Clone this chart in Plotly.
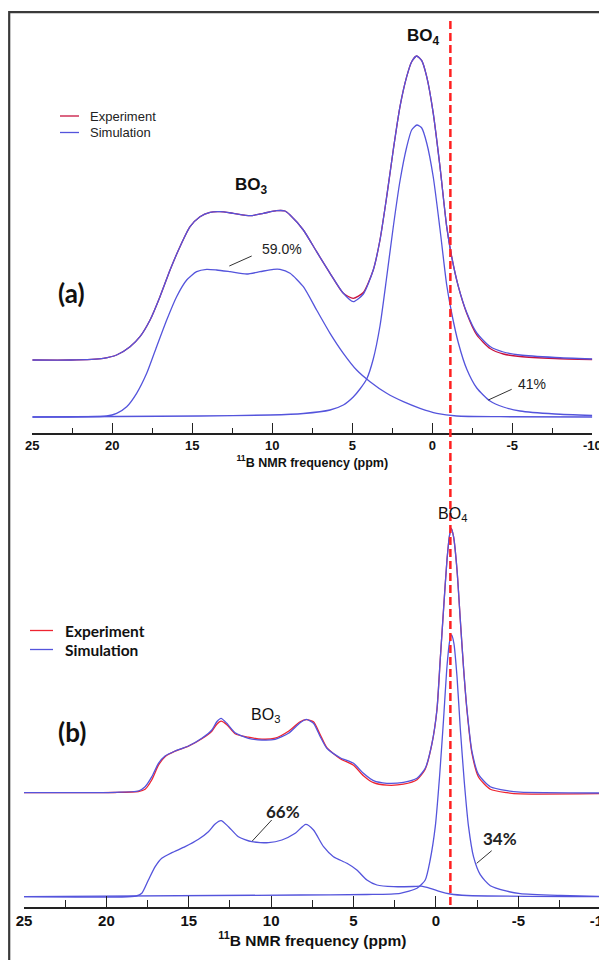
import plotly.graph_objects as go

W, H = 607, 960
OX, OY = 8, 8   # the page body margin shifts the figure; positions below are page pixels

# ---------------- Panel (a) : 11B MAS NMR, intensity in a.u. ----------------
A_TOP_PPM = [25, 22.6, 20.56, 19.73, 18.89, 18.27, 17.64, 17.02, 16.39, 15.77, 15.14, 14.52,
             13.89, 13.27, 12.44, 11.39, 10.56, 9.73, 9.21, 8.89, 8.06, 7.23, 6.39, 5.56, 4.94,
             4.31, 3.69, 3.27, 2.85, 2.44, 2.02, 1.6, 1.29, 0.98, 0.66, 0.35, -0.06, -0.48,
             -0.9, -1.21, -1.63, -2.15, -2.78, -3.61, -4.44, -5.48, -7.67, -10]
A_EXP_I = [57, 57, 58.7, 62, 70.3, 80.3, 97, 120.3, 147, 170.3, 190.3, 200.3,
           204.7, 205.3, 203.7, 201.3, 203.7, 206.3, 206, 202, 187, 165.3, 143.7, 123.7, 118.7,
           124.5, 147, 177, 220.3, 267, 310.3, 340.3, 355.3, 361, 356.3, 340.3, 303.7, 250.3,
           190.3, 160.3, 130.3, 103.7, 82, 68.5, 63, 60.5, 58.5, 57.5]
A_SIM_I = [57, 57, 58.7, 62, 70.3, 80.3, 97, 120.3, 147, 170.3, 190.3, 200.3,
           204.7, 205.3, 203.7, 201.3, 203.7, 206.3, 206, 202, 187, 165.3, 143.7, 123.7, 115.3,
           123.0, 147, 177, 220.3, 267, 310.3, 340.3, 355.3, 361, 356.3, 340.3, 303.7, 250.3,
           190.3, 160.3, 130.3, 104.5, 84, 70.5, 65, 62, 59.5, 58]

A_BO3_PPM = [25, 20.35, 19.73, 19.1, 18.48, 17.85, 17.23, 16.6, 15.98, 15.35, 14.73, 14.1,
             13.48, 12.64, 11.6, 10.77, 9.94, 9.52, 8.89, 8.06, 7.23, 6.39, 5.56, 4.73, 3.89,
             2.85, 1.81, 0.77, -0.28, -1.53, -4.23, -10]
A_BO3_I = [0, 1, 3.7, 10.3, 23.7, 43.7, 70.3, 97, 120.3, 137, 145.3, 147.7,
           147, 145.3, 143, 145.3, 147.7, 147.7, 143.7, 130.3, 107, 83.7, 63.7, 47, 35.3,
           23.7, 15.3, 8.7, 3.7, 1, 0.3, 0]

A_BO4_PPM = [25, 14.52, 10.14, 8.06, 6.39, 5.56, 4.94, 4.52, 4.1, 3.69, 3.27, 2.85, 2.44,
             2.02, 1.6, 1.29, 0.96, 0.66, 0.35, -0.06, -0.48, -0.9, -1.21, -1.63, -2.15,
             -2.78, -3.61, -4.44, -5.48, -7.67, -10]
A_BO4_I = [0, 1, 2, 3.5, 7, 12, 20, 28, 38, 58, 91, 140, 190,
           236, 270, 287, 292, 289, 274, 240, 188, 132, 104, 74, 48,
           29, 16, 10, 6, 3, 1.5]

# ---------------- Panel (b) ----------------
B_TOP_PPM = [25, 19.47, 18.06, 17.65, 17.24, 16.84, 16.44, 15.83, 15.02, 14.21, 13.6, 13.3,
             13.04, 12.69, 12.19, 11.38, 10.56, 9.76, 8.95, 8.24, 7.86, 7.43, 7.02, 6.62,
             5.81, 5.0, 4.4, 3.79, 2.98, 1.97, 1.15, 0.65, 0.24, -0.06, -0.26, -0.46, -0.67,
             -0.83, -0.93, -1.07, -1.28, -1.48, -1.68, -1.88, -2.19, -2.59, -3.3, -4.31,
             -5.12, -10]
B_EXP_I = [104, 104.2, 105.2, 107.5, 117, 131.5, 140, 145.5, 150.5, 158, 165.5, 172.5,
           175.5, 172, 163, 159.5, 157.5, 158.5, 165.5, 175, 177, 175, 162, 149,
           138, 131.5, 121, 114, 111.5, 112.5, 117, 127.5, 153, 186.7, 236.7, 286.7, 336.7,
           361.7, 368.4, 360, 326.7, 276.7, 228, 187, 143, 119.5, 107.5, 104, 102.8, 103]
B_SIM_I = [104, 104.4, 105.7, 110, 120, 133.4, 140.7, 145.7, 150.7, 158.4, 166.7, 175,
           178.4, 173.4, 164, 158.4, 156.7, 157.4, 163.4, 174, 177.4, 173.4, 160, 148.4,
           139, 133.4, 123.4, 116, 113.4, 114.4, 118.4, 128.4, 153.4, 186.7, 236.7, 286.7,
           336.7, 361.7, 368.4, 360, 326.7, 276.7, 228, 188, 145, 122, 110, 106, 104.6, 103.7]

B_BO3_PPM = [25, 18.19, 17.85, 17.45, 17.04, 16.64, 16.03, 15.22, 14.41, 13.81, 13.4, 13.04,
             12.59, 11.99, 11.17, 10.16, 9.35, 8.54, 7.9, 7.43, 6.82, 6.22, 5.4, 4.8, 4.19,
             3.58, 2.57, 1.36, 0.9, 0.35, -0.26, -0.87, -1.88, -10]
B_BO3_I = [0, 0.7, 3.4, 16.7, 30, 38.4, 44, 50, 57.4, 65, 72.7, 76,
           70, 60, 55, 54, 56.7, 63.4, 72.4, 66.7, 50, 40, 33.4, 26.7, 16.7,
           11.7, 10, 10.2, 10.5, 8.4, 5, 2.7, 1.2, 0]

B_BO4_PPM = [25, 8.24, 4.19, 2.17, 1.15, 0.65, 0.35, 0.04, -0.22, -0.46, -0.67, -0.83, -0.95,
             -1.09, -1.28, -1.48, -1.72, -1.98, -2.28, -2.69, -3.3, -4.31, -5.12, -7.55, -10]
B_BO4_I = [0, 1.7, 2.2, 3.4, 8.4, 16.7, 36.7, 70, 120, 176.7, 230, 255, 261.7,
           253.4, 220, 168, 115, 70, 40, 22, 11, 5.5, 3, 1.2, 0.2]

# ---------------- axes / labels ----------------
TICK_VALUES = [25, 20, 15, 10, 5, 0, -5, -10]
TICK_LABELS = ["25", "20", "15", "10", "5", "0", "-5", "-10"]
MINOR_TICKS = [22.5, 17.5, 12.5, 7.5, 2.5, -2.5, -7.5]
X_TITLE = "<sup>11</sup>B NMR frequency (ppm)"
LEGEND_NAMES = ["Experiment", "Simulation"]
BO4_SHIFT = -1.13   # position of the dashed reference line (ppm, panel a scale)

SIM_COLOR = "#5454dc"
EXP_A_COLOR = "#c8123e"
EXP_B_COLOR = "#ee2430"
DASH_COLOR = "#ff2020"


def PX(px):
    return (px - OX) / W


def PY(py):
    return 1 - (py - OY) / H


def P(px, py):
    return PX(px), PY(py)


fig = go.Figure()
line_w = 1.3
spl = dict(shape="spline", smoothing=0.6)


def add(x, y, color, xa, ya, name=None):
    fig.add_trace(go.Scatter(x=x, y=y, mode="lines", name=name, showlegend=False,
                             line=dict(color=color, width=line_w, **spl),
                             xaxis=xa, yaxis=ya))


add(A_TOP_PPM, A_EXP_I, EXP_A_COLOR, "x", "y", LEGEND_NAMES[0])
add(A_TOP_PPM, A_SIM_I, SIM_COLOR, "x", "y", LEGEND_NAMES[1])
add(A_BO3_PPM, A_BO3_I, SIM_COLOR, "x", "y")
add(A_BO4_PPM, A_BO4_I, SIM_COLOR, "x", "y")
add(B_TOP_PPM, B_EXP_I, EXP_B_COLOR, "x2", "y2", LEGEND_NAMES[0])
add(B_TOP_PPM, B_SIM_I, SIM_COLOR, "x2", "y2", LEGEND_NAMES[1])
add(B_BO3_PPM, B_BO3_I, SIM_COLOR, "x2", "y2")
add(B_BO4_PPM, B_BO4_I, SIM_COLOR, "x2", "y2")


def xaxis_cfg(domain, anchor, fsize, tlen, mlen, tsize, standoff):
    return dict(domain=domain, anchor=anchor, range=[25, -10], autorange=False,
                tickmode="array", tickvals=TICK_VALUES, ticktext=TICK_LABELS,
                ticks="inside", ticklen=tlen, tickwidth=1.2, tickcolor="#222",
                minor=dict(tickmode="array", tickvals=MINOR_TICKS, ticks="inside",
                           ticklen=mlen, tickwidth=1.2, tickcolor="#222"),
                showline=True, linecolor="#222", linewidth=1.5, showgrid=False,
                zeroline=False, automargin=False,
                tickfont=dict(family="Liberation Sans", size=fsize, color="#111", weight="bold"),
                title=dict(text=X_TITLE, standoff=standoff,
                           font=dict(family="Liberation Sans", size=tsize, color="#111",
                                     weight="bold")))


# panel (a): baseline of components at page y 417, axis line at 433
# panel (b): baseline of components at page y 896.7, axis line at 906.7
fig.update_layout(
    width=W, height=H, margin=dict(l=0, r=0, t=0, b=0),
    paper_bgcolor="white", plot_bgcolor="rgba(0,0,0,0)", showlegend=False,
    xaxis=xaxis_cfg([PX(32.3), PX(592.3)], "y", 13, 10, 5, 12.5, 4),
    yaxis=dict(domain=[PY(433), PY(12)], range=[-16, 405], visible=False,
               autorange=False, anchor="x"),
    xaxis2=xaxis_cfg([PX(24), PX(600.7)], "y2", 15, 11, 7, 15.5, 4),
    yaxis2=dict(domain=[PY(906.7), PY(470)], range=[-10, 426.7], visible=False,
                autorange=False, anchor="x2"),
)

shapes = []
# outer frame
shapes.append(dict(type="rect", xref="paper", yref="paper", x0=PX(9.2), x1=1.02,
                   y0=-0.02, y1=PY(12.2), line=dict(color="#3a3a3a", width=2.2)))
# dashed reference line through the BO4 peak
shapes.append(dict(type="line", xref="x", yref="paper", x0=BO4_SHIFT, x1=BO4_SHIFT,
                   y0=PY(905), y1=PY(21),
                   line=dict(color=DASH_COLOR, width=2.5, dash="8px,4px")))


def seg(p0, p1, color="#333", width=1.0):
    x0, y0 = P(*p0)
    x1, y1 = P(*p1)
    shapes.append(dict(type="line", xref="paper", yref="paper", x0=x0, y0=y0, x1=x1, y1=y1,
                       line=dict(color=color, width=width)))


# leader lines for the percentages
seg((229.3, 266), (251.7, 256))
seg((488.3, 400), (511.7, 389.3))
seg((252.3, 841), (271.7, 820))
seg((476.7, 863.3), (491.7, 850.7))
# legend keys
seg((60, 116), (79, 116), EXP_A_COLOR, 1.3)
seg((60, 132.5), (79, 132.5), SIM_COLOR, 1.3)
seg((30, 630.5), (53, 630.5), EXP_B_COLOR, 1.3)
seg((30, 649.5), (53, 649.5), SIM_COLOR, 1.3)
fig.update_layout(shapes=shapes)

ann = []


def label(text, px, py, size, family="Liberation Sans", weight="normal", color="#111",
          xanchor="center"):
    x, y = P(px, py)
    ann.append(dict(text=text, x=x, y=y, xref="paper", yref="paper", showarrow=False,
                    xanchor=xanchor, yanchor="middle",
                    font=dict(family=family, size=size, color=color, weight=weight)))


label(LEGEND_NAMES[0], 88, 116, 13, color="#222", xanchor="left")
label(LEGEND_NAMES[1], 88, 132.5, 13, color="#222", xanchor="left")
label(LEGEND_NAMES[0], 63, 630.5, 15.5, family="Lato", weight="bold", xanchor="left")
label(LEGEND_NAMES[1], 63, 649.5, 15.5, family="Lato", weight="bold", xanchor="left")

label("BO<sub>4</sub>", 423, 37, 17, weight="bold")
label("BO<sub>3</sub>", 251, 186, 17, weight="bold")
label("59.0%", 282, 249, 14, color="#222")
label("41%", 532, 384, 14, color="#222")
label("(a)", 71, 293, 26, family="Lato", weight="bold")
label("BO<sub>4</sub>", 452, 514, 16)
label("BO<sub>3</sub>", 265, 715, 16)
label("66%", 283, 811, 17, family="Lato", weight="bold", color="#222")
label("34%", 500, 838, 17, family="Lato", weight="bold", color="#222")
label("(b)", 72, 732, 26, family="Lato", weight="bold")
fig.update_layout(annotations=ann)

fig.write_html("out.html")
